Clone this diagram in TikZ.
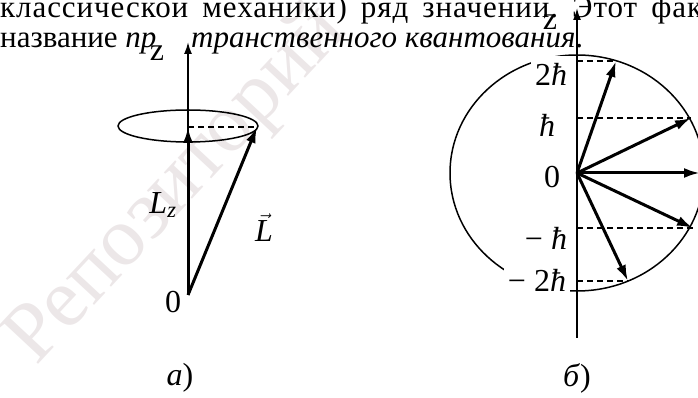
\documentclass[tikz,border=0pt]{standalone}
\usepackage{fontspec}
\setmainfont{Liberation Serif}
\usetikzlibrary{arrows.meta,positioning}
\definecolor{wmGray}{HTML}{ECE7E8}

\begin{document}
\begin{tikzpicture}[x=1pt, y=1pt,
  axis/.style={line width=1.8pt, -{Latex[length=12pt,width=8pt]}},
  vec/.style={line width=3pt, -{Latex[length=16pt,width=10pt]}},
  proj/.style={line width=1.1pt, dash pattern=on 6pt off 4pt},
  orbit/.style={line width=1.5pt},
  lbl/.style={font=\fontsize{32}{34}\selectfont, inner sep=1pt},
  hlbl/.style={lbl, fill=white, inner xsep=4pt, inner ysep=7pt},
  txt/.style={font=\fontsize{31}{33}\selectfont, inner sep=0pt, anchor=base west}
]
  \useasboundingbox (0,0) rectangle (698,398);

  % watermark and page text
  \node[rotate=47, text=wmGray, font=\fontsize{84}{84}\selectfont] (wm) at (178,212) {Репозиторий};
  \node[txt] (line1) at (0,380) {\addfontfeature{LetterSpace=3}\makebox[716pt]{классической\hfill механики)\hfill ряд\hfill значений.\hfill Этот\hfill факт}};
  \node[txt] (line2a) at (0,350) {название \textit{пр}};
  \node[txt] (line2b) at (191,350) {\textit{транственного квантования}.};

  % a) precession cone
  \coordinate (o1) at (188,103);
  \coordinate (top1) at (188,356);
  \coordinate (ring) at (188,272);
  \coordinate (lz) at (188,271);
  \coordinate (lv) at (257,271);
  \draw[orbit] (ring) ellipse [x radius=70, y radius=16];
  \draw[axis] (o1) -- (top1);
  \draw[proj] (lz) -- (lv);
  \draw[vec] (o1) -- (lz);
  \draw[vec] (o1) -- (lv);
  \node[lbl] (za) at (157,345) {z};
  \node[lbl] (zeroa) at (173,96) {0};
  \node[lbl] (lzlbl) at (163,193) {\textit{L}\textsubscript{\textit{z}}};
  \node[lbl] (llbl) at (264,170) {$\vec{\textit{L}}$};
  \node[lbl] (capa) at (180,20) {\textit{а})};

  % b) allowed projections
  \coordinate (o2) at (577,225);
  \coordinate (bot2) at (577,60);
  \coordinate (top2) at (577,390);
  \coordinate (h2) at (577,337);
  \coordinate (h1) at (577,280);
  \coordinate (hm1) at (577,170);
  \coordinate (hm2) at (577,117);
  \coordinate (p2) at (616,337);
  \coordinate (p1) at (691,280);
  \coordinate (p0) at (700,225);
  \coordinate (pm1) at (693,170);
  \coordinate (pm2) at (628,117);
  \draw[orbit] (o2) ellipse [x radius=127, y radius=118];
  \draw[proj] (h2) -- (p2);
  \draw[proj] (h1) -- (p1);
  \draw[proj] (hm1) -- (pm1);
  \draw[proj] (hm2) -- (pm2);
  \node[hlbl] (l2) at (551,324) {2\textit{ħ}};
  \node[lbl] (l1) at (547,273) {\textit{ħ}};
  \node[lbl] (l0) at (552,221) {0};
  \node[lbl] (lm1) at (546,160) {− \textit{ħ}};
  \node[hlbl, inner ysep=4pt] (lm2) at (537,118) {− 2\textit{ħ}};
  \node[lbl] (zb) at (550,376) {z};
  \draw[axis] (bot2) -- (top2);
  \foreach \t in {p2,p1,p0,pm1,pm2}
    \draw[vec] (o2) -- (\t);
  \node[lbl] (capb) at (577,20) {\textit{б})};
\end{tikzpicture}
\end{document}
